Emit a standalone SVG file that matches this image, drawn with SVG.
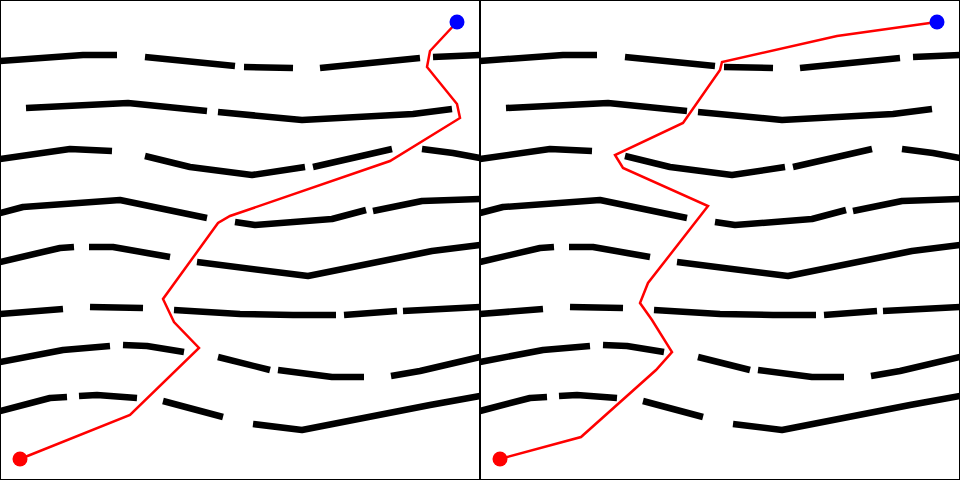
<svg xmlns="http://www.w3.org/2000/svg" xmlns:xlink="http://www.w3.org/1999/xlink" width="960" height="480" viewBox="0 0 960 480">
<style>
.wall{fill:none;stroke:#000;stroke-width:6.5;stroke-linecap:butt;stroke-linejoin:round}
.path{fill:none;stroke:#f00;stroke-width:2.5;stroke-linejoin:miter}
.frame{fill:#fff;stroke:#000;stroke-width:1}
</style>
<defs>
<g id="walls" class="wall">
<polyline points="0,61 83,55 117,55"/>
<polyline points="145,57 235,66"/>
<polyline points="244,67 293,68"/>
<polyline points="320,68 360,64 420,58"/>
<polyline points="433,57 480,55"/>
<polyline points="26,108 128,103 207,111"/>
<polyline points="218,112 302,120 413,114 452,109"/>
<polyline points="0,159 70,149 112,151"/>
<polyline points="145,156 190,167 252,175 305,167"/>
<polyline points="313,167 357,157 392,149"/>
<polyline points="422,149 453,153 480,158"/>
<polyline points="0,213 23,207 120,200 207,218"/>
<polyline points="235,222 255,225 332,219 366,210"/>
<polyline points="373,211 422,201 480,199"/>
<polyline points="0,262 60,248 74,247"/>
<polyline points="89,247 113,247 147,253 170,257"/>
<polyline points="197,262 308,276 432,251 480,245"/>
<polyline points="0,314 63,309"/>
<polyline points="90,307 143,308"/>
<polyline points="174,310 240,314 293,315 336,315"/>
<polyline points="344,315 397,311"/>
<polyline points="403,311 480,307"/>
<polyline points="0,362 63,350 110,346"/>
<polyline points="123,345 147,346 184,352"/>
<polyline points="218,357 270,370"/>
<polyline points="278,370 332,377 364,377"/>
<polyline points="391,376 420,371 480,357"/>
<polyline points="0,411 50,398 67,397"/>
<polyline points="79,396 97,395 137,398"/>
<polyline points="163,401 223,417"/>
<polyline points="253,424 302,430 430,405 480,396"/>
</g>
</defs>
<rect class="frame" x="0.5" y="0.5" width="479" height="479"/>
<rect class="frame" x="480.5" y="0.5" width="479" height="479"/>
<g id="walls-left"><use xlink:href="#walls" href="#walls"/></g>
<g id="walls-right"><use xlink:href="#walls" href="#walls" transform="translate(480,0)"/></g>
<g id="connectors">
<polyline class="path" points="20,459 130,415 199,348 174,322 163,299 218,223 230,216 390,161 460,118 457,104 427,67 430,51 457,22"/>
<polyline class="path" points="500,459 581,437 656,370 672,352 652,320 640,303 648,283 708,206 623,168 615,155 683,123 720,70 722,62 837,36 937,22"/>
</g>
<g id="start-left"><circle cx="20" cy="459" r="7.5" fill="#f00"/></g>
<g id="goal-left"><circle cx="457" cy="22" r="7.5" fill="#00f"/></g>
<g id="start-right"><circle cx="500" cy="459" r="7.5" fill="#f00"/></g>
<g id="goal-right"><circle cx="937" cy="22" r="7.5" fill="#00f"/></g>
</svg>
